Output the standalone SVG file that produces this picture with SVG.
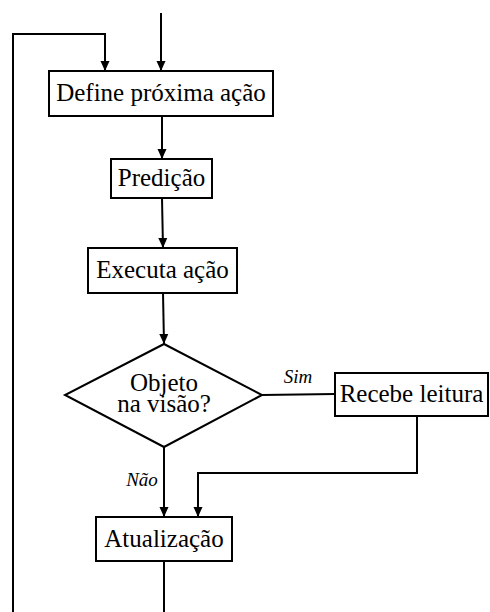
<svg xmlns="http://www.w3.org/2000/svg" width="490" height="612" viewBox="0 0 490 612">
  <style>
    .box { fill: #fff; stroke: #000; stroke-width: 2; }
    .lbl { font-family: "Liberation Serif", "Times New Roman", serif; font-size: 25px; fill: #000; text-anchor: middle; }
    .edge { font-family: "Liberation Serif", "Times New Roman", serif; font-size: 19px; font-style: italic; fill: #000; text-anchor: middle; }
    .wire { fill: none; stroke: #000; stroke-width: 2; }
  </style>
  <defs>
    <marker id="arrow" markerUnits="userSpaceOnUse" markerWidth="10" markerHeight="10" refX="10" refY="5" orient="auto">
      <path d="M0,0.5 L10,5 L0,9.5 z" fill="#000"/>
    </marker>
  </defs>
  <rect width="490" height="612" fill="#fff"/>

  <g id="connectors">
    <path class="wire" d="M161,13 L161,71" marker-end="url(#arrow)"/>
    <path class="wire" d="M13,612 L13,34 L105,34 L105,71" marker-end="url(#arrow)"/>
    <path class="wire" d="M162,116 L162,159" marker-end="url(#arrow)"/>
    <path class="wire" d="M162,198 L163,248" marker-end="url(#arrow)"/>
    <path class="wire" d="M163,293 L164,344" marker-end="url(#arrow)"/>
    <path class="wire" d="M262,395 L335,394"/>
    <text class="edge" x="298" y="383">Sim</text>
    <path class="wire" d="M164,447 L164,517" marker-end="url(#arrow)"/>
    <text class="edge" x="142" y="486">Não</text>
    <path class="wire" d="M417,416 L417,473 L198,473 L198,517" marker-end="url(#arrow)"/>
    <path class="wire" d="M164,561 L164,612"/>
  </g>

  <g id="define">
    <rect class="box" x="49" y="71" width="224" height="45"/>
    <text class="lbl" x="161" y="101">Define próxima ação</text>
  </g>
  <g id="predicao">
    <rect class="box" x="111" y="159" width="101" height="39"/>
    <text class="lbl" x="161.5" y="186">Predição</text>
  </g>
  <g id="executa">
    <rect class="box" x="88" y="248" width="149" height="45"/>
    <text class="lbl" x="162.5" y="278">Executa ação</text>
  </g>
  <g id="decisao">
    <polygon class="box" points="164,344 262,395 164,447 65,395"/>
    <text class="lbl" x="164" y="391">Objeto</text>
    <text class="lbl" x="164" y="412">na visão?</text>
  </g>
  <g id="recebe">
    <rect class="box" x="335" y="373" width="153" height="43"/>
    <text class="lbl" x="411.5" y="402">Recebe leitura</text>
  </g>
  <g id="atualizacao">
    <rect class="box" x="96" y="517" width="136" height="44"/>
    <text class="lbl" x="164" y="547">Atualização</text>
  </g>
</svg>
